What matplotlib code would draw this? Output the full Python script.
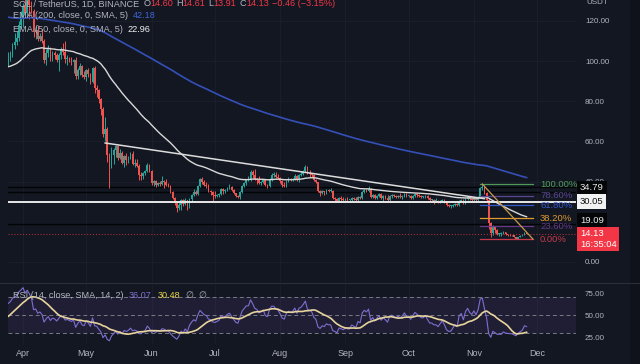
import numpy as np
import pandas as pd
import matplotlib
matplotlib.use('Agg')
import matplotlib.pyplot as plt
import matplotlib.dates as mdates
import matplotlib.transforms as mtrans

plt.rcParams['font.family'] = ['Liberation Sans', 'DejaVu Sans']

# SOL/USDT daily, closes before the visible range (2022-02-20 .. 03-24), only for RSI warm-up
warmup_closes = [85.0, 83.0, 87.5, 84.5, 88.0, 92.0, 90.0, 86.5, 98.0,
                 101.5, 99.5, 94.0, 86.5, 90.0, 86.0, 81.5, 83.0, 89.0, 84.5, 81.0, 81.5,
                 79.5, 82.5, 82.0, 86.0, 87.5, 89.0, 90.5, 88.0, 90.0, 93.5, 96.0, 99.0]

# visible candles 2022-03-25 .. 2022-11-26
closes = [101.5, 103.5, 108.0, 109.5, 111.5, 118.0, 122.0,
          127.5, 124.0, 130.5, 128.0, 125.0, 114.5, 115.5, 111.0, 112.5, 110.0,
          100.5, 104.0, 106.5, 101.5, 104.0, 103.0, 100.5, 103.0, 106.0, 104.5,
          101.0, 101.5, 100.5, 99.5, 100.5, 92.5, 95.5, 97.5, 93.0, 92.0,
          95.5, 93.5, 89.5, 96.5, 86.5, 85.5, 81.0, 76.0, 63.5, 66.0,
          53.0, 48.5, 53.0, 55.5, 57.5, 51.5, 54.0, 49.5, 52.5, 50.5,
          51.5, 53.5, 49.0, 49.5, 48.0, 43.5, 43.0, 44.5, 45.5, 48.5, 45.5,
          39.5, 40.5, 38.5, 39.5, 39.0, 40.5, 40.0, 38.5, 38.0, 35.0,
          32.0, 29.5, 27.0, 28.5, 31.0, 29.0, 31.0, 28.0, 31.5, 33.5,
          35.0, 34.0, 38.0, 41.5, 40.0, 38.5, 38.0, 35.5, 35.0, 33.5,
          33.0, 33.5, 34.0, 36.5, 35.5, 36.0, 37.0, 37.5, 36.0, 34.5,
          33.0, 32.5, 35.0, 38.0, 39.5, 41.0, 41.0, 45.0, 43.5, 41.5,
          41.0, 39.5, 40.0, 41.0, 38.5, 38.0, 41.5, 43.5, 43.5, 42.5, 42.0,
          40.5, 38.5, 38.0, 40.5, 41.5, 41.0, 41.5, 43.0, 41.0, 43.5,
          44.0, 45.5, 47.5, 44.5, 44.0, 43.5, 41.0, 40.0, 35.5, 34.5,
          35.5, 35.0, 36.0, 35.5, 35.5, 32.0, 31.5, 30.5, 32.0, 31.5, 31.0,
          31.5, 31.0, 31.0, 32.0, 31.5, 31.0, 32.5, 32.0, 35.0, 36.0,
          35.5, 36.5, 32.5, 33.5, 32.0, 33.0, 34.0, 32.0, 33.0, 32.0,
          31.0, 33.0, 33.5, 33.0, 32.5, 33.0, 32.5, 33.0, 34.0, 33.0,
          33.0, 32.0, 33.0, 34.0, 33.5, 33.0, 32.5, 32.5, 33.0, 32.0,
          31.0, 31.0, 30.5, 30.5, 30.0, 30.5, 31.0, 30.0, 28.5, 28.0,
          28.0, 28.5, 29.0, 28.5, 30.5, 31.0, 29.5, 31.5, 32.5, 31.5, 31.0,
          32.0, 31.0, 32.5, 37.0, 37.5, 34.5, 31.0, 19.5, 14.5, 17.5,
          16.0, 14.0, 14.0, 14.0, 15.0, 13.8, 13.6, 13.3, 13.3, 12.5,
          11.6, 12.4, 12.8, 13.3, 14.59, 14.13]

highs = [104.5, 105, 109, 114, 115, 120, 125,
         129, 137, 134, 133, 130, 126, 118, 118, 114, 116,
         111, 106, 108, 107, 105, 105, 104, 104, 107, 109,
         110, 103, 102, 102, 101, 102, 96.5, 99, 98, 95,
         96, 96.5, 94, 97, 97.5, 88, 86, 81.5, 77, 72,
         67, 54, 57, 56.5, 58, 58, 56, 55, 53, 54,
         52.5, 54.5, 55, 51, 51, 49, 45, 45, 46, 49.5, 49,
         46, 41, 41, 40, 40.5, 43, 41, 41.5, 39.5, 38.5,
         35.5, 32.5, 29.5, 30, 31.5, 31.5, 32, 31, 32, 34,
         36.5, 36, 38.5, 42, 42.5, 41, 40, 39, 36, 35.5,
         35.5, 34, 34.5, 37, 37, 36.5, 37.5, 39, 38, 36.5,
         34.5, 33.5, 35.5, 38.5, 40, 41.5, 43, 46, 46, 46.5,
         42, 43, 40.5, 41.5, 41, 39, 42, 44.5, 45, 45, 44,
         42.5, 41, 40, 41, 42.5, 42, 42, 44, 43.5, 44,
         45.5, 46, 48.5, 48, 46, 44.5, 44, 41.5, 40, 36,
         36, 35.5, 36.5, 36.5, 37, 36, 32.5, 32, 32.5, 33, 32.5,
         32, 32.5, 31.5, 32.5, 32.5, 32.5, 33, 33, 35.5, 36.5,
         36.5, 38, 37, 34, 34, 33.5, 34.5, 34.5, 33.5, 33.5,
         33.5, 33.5, 34, 34, 33.5, 33.5, 34.5, 33.5, 34.5, 34.5,
         33.5, 33.5, 33.5, 34.5, 34.5, 34, 33.5, 33, 33.5, 33.5,
         32.5, 31.5, 31.5, 32, 31, 31, 31.5, 31.5, 30.5, 29,
         28.5, 29, 29.5, 29.5, 31, 31.5, 31.5, 32, 33, 33, 32,
         32.5, 32.5, 33, 37.5, 38.8, 38, 35, 31.5, 20, 18.5,
         18, 16.5, 14.5, 14.8, 15.5, 15, 14, 14, 13.6, 13.5,
         12.6, 12.6, 13.2, 13.6, 14.9, 14.61]

lows = [97.5, 100, 102, 106, 108, 110, 116,
        117, 123, 122, 121, 124, 112, 111, 110, 110, 109,
        99, 98, 102, 100, 100, 101, 99.5, 95, 101, 103,
        99, 98, 99.5, 98, 94, 91, 91, 93, 92, 91,
        90, 92, 88.5, 89, 84, 82, 79, 73, 62, 60,
        50, 37, 47, 49, 52, 50.5, 51, 49, 47.5, 48.5,
        49.5, 51, 48.5, 47.5, 47.5, 41, 41, 41.5, 43.5, 45, 45,
        38.5, 38, 37.5, 38, 38, 38.5, 37, 38, 37.5, 34.5,
        31.5, 28.5, 25, 26, 26, 28, 28.5, 25.8, 27, 30.5,
        33, 33.5, 33.5, 37.5, 39, 38, 37, 35, 33.5, 30.5,
        32, 32.5, 32.5, 33.5, 34, 34.5, 35.5, 36.5, 35.5, 34,
        32.5, 32, 31.5, 34.5, 37.5, 38.5, 40.5, 40.5, 42, 41,
        39, 39, 38.5, 39.5, 38, 37, 37.5, 40.5, 42.5, 42, 41.5,
        39.5, 37.5, 37.5, 37.5, 40, 40.5, 40.5, 41, 40.5, 40,
        43, 43.5, 45, 44, 42.5, 42.5, 40.5, 39.5, 35, 33,
        34, 33.5, 34, 35, 35, 31.5, 30.5, 30, 30, 30.5, 30.5,
        30, 30.5, 30.5, 30.5, 31, 30.5, 30.5, 31.5, 31.5, 34.5,
        35, 35, 32, 32, 31.5, 31.5, 32.5, 31.5, 30.5, 31.5,
        30, 30.5, 32, 32.5, 32, 32, 32, 31.5, 32.5, 32.5,
        32.5, 31.5, 31.5, 32.5, 32.5, 32.5, 32, 32, 32, 31.5,
        30.5, 30.5, 29, 30, 29.5, 29.5, 30, 29.5, 28, 27.5,
        27, 27.5, 28, 28, 28, 30, 29, 29, 31, 31, 30.5,
        30.5, 30.5, 30.5, 32, 36, 34, 30.5, 16.5, 12.5, 13.5,
        14.5, 13.5, 13, 12.8, 13.7, 13.5, 13, 13, 13, 12.2,
        11.4, 11.5, 12.2, 12.7, 13.2, 13.91]

first_day = '2022-03-25'
ema50_seed, ema200_seed = 97.0, 122.0      # EMA values on the day before first_day

hlines_black = [37.4, 34.79, 19.09]
hline_white = 30.05
last_price = 14.13
countdown = '16:35:04'

# values printed in the pane legends
ohlc_text = ['14.60', '14.61', '13.91', '14.13']
change_text = '\u22120.46 (\u22123.15%)'
ema200_last, ema50_last = '42.18', '22.96'
rsi_last, rsi_ma_last = '36.07', '30.48'

trend_start, trend_end = ('2022-05-10', 59.2), ('2022-11-06', 31.5)
fib_start, fib_end = '2022-11-04', '2022-11-29'
fib_levels = [1.0, 0.786, 0.618, 0.382, 0.236, 0.0]
fib_names = ['100.00%', '78.60%', '61.80%', '38.20%', '23.60%', '0.00%']
fib_colors = ['#4f9a56', '#5b4692', '#3558c8', '#e09a2e', '#67388a', '#c63a4c']

assert len(closes) == len(highs) == len(lows) == 247, (len(closes), len(highs), len(lows))

# ---------------------------------------------------------------- indicators
dates = pd.date_range(first_day, periods=len(closes), freq='D')
x = mdates.date2num(dates.to_pydatetime())
c = np.array(closes)
o = np.r_[warmup_closes[-1], c[:-1]]
h = np.maximum(np.array(highs), np.maximum(o, c))
l = np.minimum(np.array(lows), np.minimum(o, c))


def ema(vals, length, seed):
    a = 2.0 / (length + 1)
    out, e = [], seed
    for v in vals:
        e += a * (v - e)
        out.append(e)
    return np.array(out)


ema50 = ema(c, 50, ema50_seed)
ema200 = ema(c, 200, ema200_seed)

allc = pd.Series(warmup_closes + closes)
d = allc.diff()
up = d.clip(lower=0).ewm(alpha=1 / 14, adjust=False).mean()
dn = (-d.clip(upper=0)).ewm(alpha=1 / 14, adjust=False).mean()
rsi_all = 100 - 100 / (1 + up / dn)
rsi_ma_all = rsi_all.rolling(14).mean()
n0 = len(warmup_closes)
rsi = rsi_all.values[n0:]
rsi_ma = rsi_ma_all.values[n0:]

# ---------------------------------------------------------------- figure
W, H = 640, 364
bg = '#131722'
grey = '#b2b5be'
grid = '#1c202c'
fig = plt.figure(figsize=(W / 100, H / 100), dpi=100, facecolor=bg)
L, R = 8, 576
ax = fig.add_axes([L / W, 1 - 282 / H, (R - L) / W, 282 / H], facecolor=bg)
rax = fig.add_axes([L / W, 1 - 343 / H, (R - L) / W, 59 / H], facecolor=bg, sharex=ax)

apr1 = mdates.datestr2num('2022-04-01')
ppd = 2.107  # pixels per day, Apr 1 sits at x = 23 px
ax.set_xlim(apr1 + (L - 23) / ppd, apr1 + (R - 23) / ppd)
ax.set_ylim((262 - 282) / 2.01, 262 / 2.01)

for a in (ax, rax):
    for s in a.spines.values():
        s.set_visible(False)
    a.xaxis.set_major_locator(mdates.MonthLocator())
    a.grid(True, color=grid, lw=0.6)
    a.set_axisbelow(True)
    a.tick_params(length=0, colors=grey)

ax.yaxis.tick_right()
yt = [0, 40, 60, 80, 100, 120]
ax.set_yticks(yt)
ax.set_yticklabels([f'{v:.2f}' for v in yt])
ax.tick_params(axis='y', pad=6.5, labelsize=5.8)
ax.tick_params(axis='x', labelbottom=False)

# candles
up_c, dn_c = '#26a69a', '#ef5350'
cols = np.where(c >= o, up_c, dn_c)
ax.vlines(x, l, h, colors=cols, lw=0.7, zorder=3)
body = np.maximum(np.abs(c - o), 0.3)
ax.bar(x, body, bottom=np.minimum(o, c), width=0.8, color=cols, lw=0, zorder=3)

# moving averages
ax.plot(x, ema200, color='#3450b8', lw=1.2, zorder=4)
ax.plot(x, ema50, color='#d9d9d9', lw=1.0, zorder=4)

# horizontal levels
for v in hlines_black:
    ax.axhline(v, color='#030405', lw=1.0, zorder=2)
ax.axhline(hline_white, color='#e8e8e8', lw=1.4, zorder=4)
ax.axhline(last_price, color='#f23645', lw=0.7, ls=(0, (1, 2)), alpha=0.8, zorder=2)

# trend line
tx = mdates.datestr2num([trend_start[0], trend_end[0]])
ax.plot(tx, [trend_start[1], trend_end[1]], color='#dcdcdc', lw=1.1, zorder=4)

# fibonacci retracement
in_fib = dates >= pd.Timestamp(fib_start)
fib_hi = h[in_fib].max()
fib_lo = l[in_fib].min()
fx0, fx1 = mdates.datestr2num(fib_start), mdates.datestr2num(fib_end)
for lev, name, col in zip(fib_levels, fib_names, fib_colors):
    yv = fib_lo + lev * (fib_hi - fib_lo)
    ax.plot([fx0, fx1], [yv, yv], color=col, lw=0.9, zorder=4)
    ax.text(fx1 + 3.4, yv, name, color=col, fontsize=6.8, va='center', ha='left', zorder=4)
hi_day = x[in_fib][np.argmax(h[in_fib])]
ax.plot([hi_day, fx1], [fib_hi, fib_lo], color='#c79a4e', lw=0.9, zorder=4)

# price labels on the scale
tr = mtrans.blended_transform_factory(ax.transAxes, ax.transData)
bx = (580 - L) / (R - L)


def price_tag(v, txt, fc, tc, dy=0):
    ax.annotate(txt, (bx, v), xycoords=tr, xytext=(0, dy), textcoords='offset points',
                ha='left', va='center', fontsize=6.8, color=tc, zorder=6, annotation_clip=False,
                bbox=dict(boxstyle='square,pad=0.28', fc=fc, ec='none'))


price_tag(34.79, '34.79', '#050607', '#e8e8e8', dy=3)
price_tag(hline_white, f'{hline_white:.2f}', '#f2f2f2', '#111111')
price_tag(19.09, '19.09', '#050607', '#e8e8e8', dy=2.6)
price_tag(last_price, f'{last_price:.2f}\n{countdown}', '#f23645', '#ffffff', dy=-4)

# ---------------------------------------------------------------- RSI pane
rax.set_ylim(50 - 28 / 0.88, 50 + 31 / 0.88)
rax.axhspan(30, 70, color='#7e57c2', alpha=0.12, lw=0, zorder=1)
for v in (70, 50, 30):
    rax.axhline(v, color='#787b86', lw=0.7, ls=(0, (4, 3)), zorder=2)
rax.plot(x, rsi, color='#7e6fd0', lw=0.8, zorder=3)
rax.plot(x, rsi_ma, color='#e6d49c', lw=1.2, zorder=4)
rax.yaxis.tick_right()
rax.set_yticks([25, 50, 75])
rax.set_yticklabels(['25.00', '50.00', '75.00'])
rax.tick_params(axis='y', pad=6.5, labelsize=5.8)
rax.grid(False, axis='y')
rax.xaxis.set_major_formatter(mdates.DateFormatter('%b'))
rax.tick_params(axis='x', pad=4, labelsize=6.5)

# pane separator + right edge
fig.add_artist(plt.Line2D([0, 1], [1 - 283 / H, 1 - 283 / H], color='#2a2e39', lw=0.8))
fig.add_artist(plt.Rectangle((630 / W, 0), 10 / W, 1, color='#0f121a', lw=0))

# ---------------------------------------------------------------- legends
renderer = fig.canvas.get_renderer()


def text_row(x_px, y_px, parts, size=6.6):
    xp = x_px
    for s, col, gap in parts:
        t = fig.text(xp / W, 1 - y_px / H, s, color=col, fontsize=size, va='center', ha='left')
        xp += t.get_window_extent(renderer).width + gap


red = '#f23645'
row = [('SOL / TetherUS, 1D, BINANCE', grey, 4)]
for letter, val in zip('OHLC', ohlc_text):
    row += [(letter, grey, 0), (val, red, 3)]
row.append((change_text, red, 0))
text_row(13, 4, row)
text_row(13, 15, [('EMA (200, close, 0, SMA, 5)', grey, 5), (ema200_last, '#3d63d6', 0)])
text_row(13, 29, [('EMA (50, close, 0, SMA, 5)', grey, 5), (ema50_last, '#f0f0f0', 0)])
text_row(13, 296, [('RSI (14, close, SMA, 14, 2)', grey, 5), (rsi_last, '#7e6fd0', 6),
                   (rsi_ma_last, '#e6d44a', 6), ('\u2205  \u2205', grey, 0)])
fig.text(586 / W, 1 - 2.5 / H, 'USDT', color=grey, fontsize=5.8, va='center', ha='left')

fig.savefig('out.png', dpi=100, facecolor=bg)
